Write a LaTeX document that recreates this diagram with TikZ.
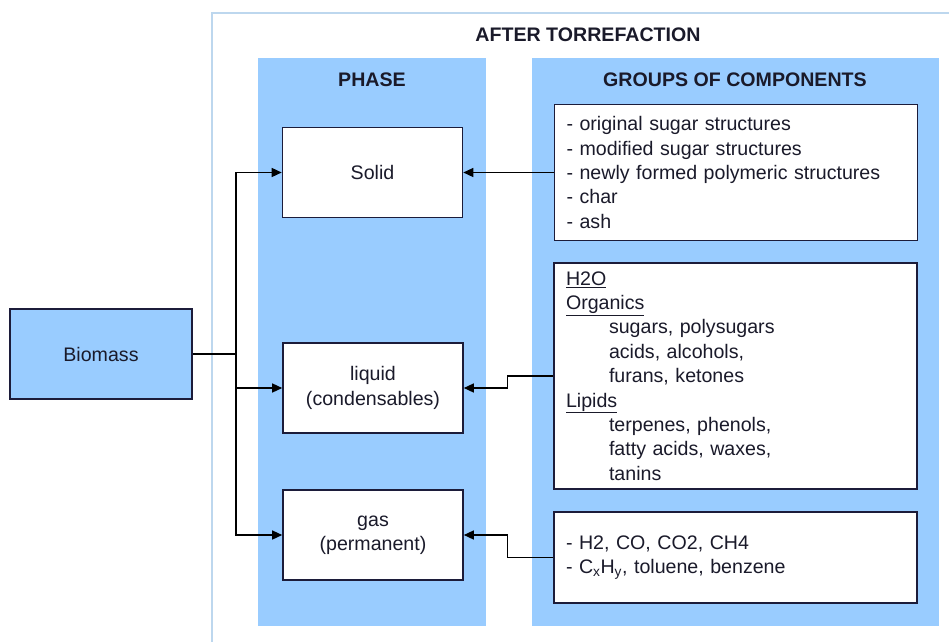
\documentclass[tikz,border=0pt]{standalone}
\usepackage{fontspec}
\setmainfont{Liberation Sans}
\usepackage{xcolor}
\usepackage{tikz}
\usetikzlibrary{positioning,arrows.meta,calc}

\definecolor{panelblue}{HTML}{99CCFF}
\definecolor{frameblue}{HTML}{BDD7EE}
\definecolor{navyline}{HTML}{1C1C3A}
\definecolor{inktext}{HTML}{1A1A2A}

\tikzset{
  bigfont/.style={font=\fontsize{19.6}{24.4}\selectfont},
  panel/.style={fill=panelblue, draw=none, inner sep=0pt},
  phasebox/.style={draw=navyline, line width=1.6pt, fill=white, align=center,
    minimum width=180pt, minimum height=90pt, bigfont, text=inktext},
  groupbox/.style={draw=navyline, line width=1.6pt, fill=white, align=left,
    minimum width=363pt, inner xsep=12pt, bigfont, text=inktext, text width=339pt},
  title/.style={font=\fontsize{19.6}{22}\selectfont\bfseries, text=inktext},
  link/.style={line width=1.4pt, black}
}

\begin{document}
\begin{tikzpicture}[x=1pt, y=-1pt, >={Triangle[length=10pt,width=9pt]}]
  \useasboundingbox[fill=white] (0,0) rectangle (949,642);
  \draw[frameblue, line width=1.6pt] (949,13) -- (212,13) -- (212,642);

  \node[panel, minimum width=228pt, minimum height=568pt] (phasepanel) at (372,342) {};
  \node[panel, minimum width=407pt, minimum height=568pt] (grouppanel) at (735.5,342) {};

  \node[title] (after) at (588,35) {AFTER TORREFACTION};
  \node[title] (phasetitle) at (372,80) {PHASE};
  \node[title] (grouptitle) at (735,80) {GROUPS OF COMPONENTS};

  \node[phasebox, fill=panelblue, minimum width=182pt] (biomass) at (101,354) {Biomass};
  \node[phasebox] (solid) at (372.5,172.5) {Solid};
  \node[phasebox] (liquid) at (373,388) {liquid\\(condensables)};
  \node[phasebox] (gas) at (373,535) {gas\\(permanent)};

  \node[groupbox, minimum height=136pt] (grp1) at (736,172.5) {%
    - original sugar structures\\
    - modified sugar structures\\
    - newly formed polymeric structures\\
    - char\\
    - ash};
  \node[groupbox, minimum height=226pt] (grp2) at (735.5,376) {%
    \underline{H2O}\\
    \underline{Organics}\\
    \hspace*{43pt}sugars, polysugars\\
    \hspace*{43pt}acids, alcohols,\\
    \hspace*{43pt}furans, ketones\\
    \underline{Lipids}\\
    \hspace*{43pt}terpenes, phenols,\\
    \hspace*{43pt}fatty acids, waxes,\\
    \hspace*{43pt}tanins};
  \node[groupbox, minimum height=91pt] (grp3) at (735.5,557.5) {%
    - H2, CO, CO2, CH4\\
    - C\textsubscript{x}H\textsubscript{y}, toluene, benzene};

  \coordinate (split) at (236,354);
  \draw[link] (biomass) -- (split);
  \draw[link,->] (split) |- (solid);
  \draw[link,->] (split) |- (liquid);
  \draw[link,->] (split) |- (gas);

  \draw[link,->] (grp1) -- (solid);
  \draw[link,->] (grp2.west) -- ++(-46,0) |- (liquid);
  \draw[link,->] (grp3.west) -- ++(-46,0) |- (gas);
\end{tikzpicture}
\end{document}
